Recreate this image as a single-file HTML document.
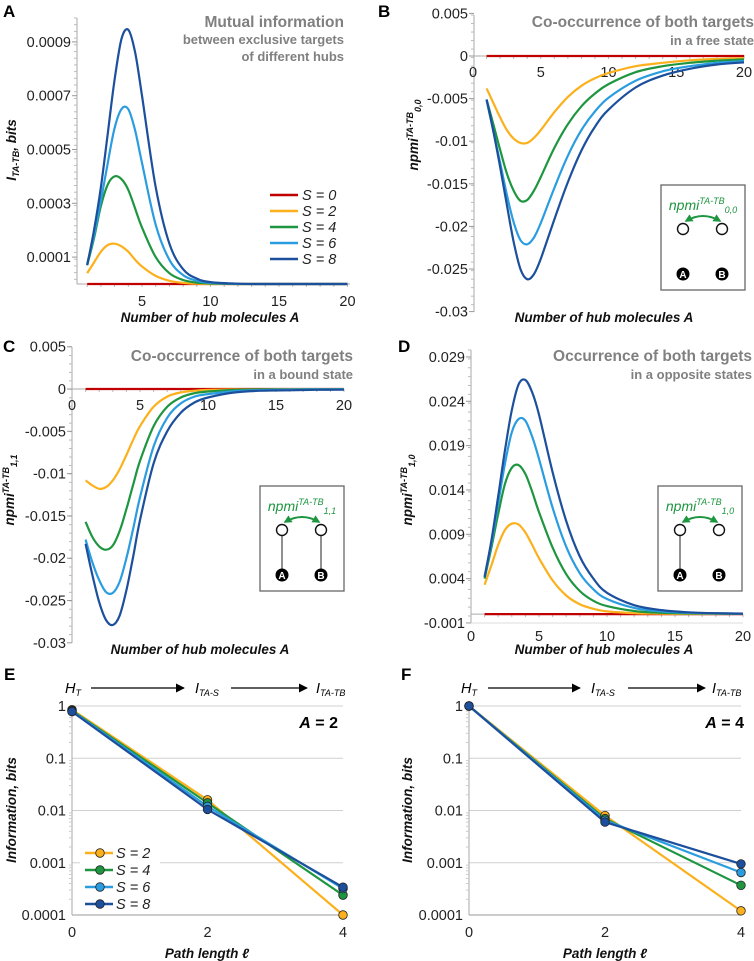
<!DOCTYPE html>
<html><head><meta charset="utf-8"><style>
body{margin:0;background:#fff;}
svg{display:block;font-family:"Liberation Sans",Arial,sans-serif;}
.tk{font-size:14.5px;fill:#222;}
.ttl{font-weight:bold;fill:#808080;}
.lab{font-weight:bold;font-style:italic;font-size:13.5px;fill:#111;}
.pl{font-weight:bold;font-size:17px;fill:#000;}
</style></head><body>
<svg id="fig" width="754" height="961" viewBox="0 0 754 961" xmlns="http://www.w3.org/2000/svg">
<g id="static">
<text class="pl" x="3" y="17">A</text>
<text class="pl" x="378" y="17">B</text>
<text class="pl" x="3" y="352">C</text>
<text class="pl" x="398" y="352">D</text>
<text class="pl" x="4" y="680">E</text>
<text class="pl" x="401" y="680">F</text>

<g text-anchor="end">
<text class="ttl" x="344" y="27" font-size="15.5">Mutual information</text>
<text class="ttl" x="344" y="44" font-size="13">between exclusive targets</text>
<text class="ttl" x="344" y="61" font-size="13">of different hubs</text></g>
<g text-anchor="end">
<text class="ttl" x="754" y="27" font-size="15.5">Co-occurrence of both targets</text>
<text class="ttl" x="754" y="45" font-size="13">in a free state</text></g>
<g text-anchor="end">
<text class="ttl" x="353" y="361" font-size="15.5">Co-occurrence of both targets</text>
<text class="ttl" x="353" y="379" font-size="13">in a bound state</text></g>
<g text-anchor="end">
<text class="ttl" x="752" y="361" font-size="15.5">Occurrence of both targets</text>
<text class="ttl" x="752" y="379" font-size="13">in a opposite states</text></g>

<text class="lab" x="210" y="322" text-anchor="middle">Number of hub molecules A</text>
<text class="lab" x="604" y="322" text-anchor="middle">Number of hub molecules A</text>
<text class="lab" x="200" y="654" text-anchor="middle">Number of hub molecules A</text>
<text class="lab" x="604" y="654" text-anchor="middle">Number of hub molecules A</text>
<text class="lab" x="207" y="958" text-anchor="middle">Path length ℓ</text>
<text class="lab" x="605" y="958" text-anchor="middle">Path length ℓ</text>

<text class="lab" transform="translate(16,150) rotate(-90)" text-anchor="middle">I<tspan font-size="9" dy="3">TA-TB</tspan><tspan dy="-3">, bits</tspan></text>
<text class="lab" transform="translate(418,135) rotate(-90)" text-anchor="middle">npmi<tspan font-size="9" dy="-5">TA-TB</tspan><tspan font-size="9" dy="8">0,0</tspan></text>
<text class="lab" transform="translate(14,490) rotate(-90)" text-anchor="middle">npmi<tspan font-size="9" dy="-5">TA-TB</tspan><tspan font-size="9" dy="8">1,1</tspan></text>
<text class="lab" transform="translate(412,490) rotate(-90)" text-anchor="middle">npmi<tspan font-size="9" dy="-5">TA-TB</tspan><tspan font-size="9" dy="8">1,0</tspan></text>
<text class="lab" transform="translate(16,810) rotate(-90)" text-anchor="middle">Information, bits</text>
<text class="lab" transform="translate(412,810) rotate(-90)" text-anchor="middle">Information, bits</text>

<defs><marker id="ah" viewBox="0 0 10 10" refX="9" refY="5" markerWidth="7" markerHeight="7" orient="auto"><path d="M0,0 L10,5 L0,10 z" fill="#000"/></marker>
<marker id="gh" viewBox="0 0 10 10" refX="8" refY="5" markerWidth="4" markerHeight="4" orient="auto-start-reverse"><path d="M0,0 L10,5 L0,10 z" fill="#1e9640"/></marker></defs>

<g font-size="14.5" font-style="italic">
<text x="65" y="693">H<tspan font-size="9" dy="3">T</tspan></text>
<line x1="91" y1="688" x2="184" y2="688" stroke="#000" stroke-width="1.3" marker-end="url(#ah)"/>
<text x="195" y="693">I<tspan font-size="9" dy="3">TA-S</tspan></text>
<line x1="231" y1="688" x2="307" y2="688" stroke="#000" stroke-width="1.3" marker-end="url(#ah)"/>
<text x="316" y="693">I<tspan font-size="9" dy="3">TA-TB</tspan></text></g>
<g font-size="14.5" font-style="italic">
<text x="461" y="693">H<tspan font-size="9" dy="3">T</tspan></text>
<line x1="488" y1="688" x2="580" y2="688" stroke="#000" stroke-width="1.3" marker-end="url(#ah)"/>
<text x="591" y="693">I<tspan font-size="9" dy="3">TA-S</tspan></text>
<line x1="628" y1="688" x2="705" y2="688" stroke="#000" stroke-width="1.3" marker-end="url(#ah)"/>
<text x="712" y="693">I<tspan font-size="9" dy="3">TA-TB</tspan></text></g>
<text x="338" y="728" font-size="16" font-weight="bold" text-anchor="end"><tspan font-style="italic">A</tspan> = 2</text>
<text x="744" y="728" font-size="16" font-weight="bold" text-anchor="end"><tspan font-style="italic">A</tspan> = 4</text>
</g>
<g id="plots"></g>
<g id="insets"></g>
</svg>
<script>
// ---- data ----
const xA = [1,1.5,2,2.5,3,3.5,4,4.5,5,6,7,8,9,10,12,14,16,18,20];
const sLabels = ["S = 0","S = 2","S = 4","S = 6","S = 8"];
const colors = ["#c00000","#fbb01c","#1e9640","#2a9de0","#1c4f9c"];
// Panel A, units of 1e-4 bits
const a_S0 = [0,0,0,0,0,0,0,0,0,0,0,0,0,0,0,0,0,0,0];
const a_S2 = [0.4,0.8,1.2,1.45,1.5,1.4,1.2,0.9,0.65,0.3,0.12,0.04,0.01,0,0,0,0,0,0];
const a_S4 = [0.7,1.7,2.9,3.7,4.0,3.9,3.5,2.8,2.1,1.0,0.4,0.15,0.05,0.02,0,0,0,0,0];
const a_S6 = [0.75,1.8,3.1,4.5,5.8,6.5,6.5,5.7,4.5,2.2,0.9,0.33,0.12,0.04,0.005,0,0,0,0];
const a_S8 = [0.7,2.0,3.6,5.6,7.6,9.1,9.45,8.6,7.0,3.6,1.5,0.55,0.2,0.07,0.01,0,0,0,0];
// Panel B, units of 1e-3
const b_S0 = [0,0,0,0,0,0,0,0,0,0,0,0,0,0,0,0,0,0,0];
const b_S2 = [-3.8,-5.5,-7.2,-8.7,-9.7,-10.2,-10.2,-9.6,-8.7,-6.6,-4.8,-3.5,-2.6,-2.0,-1.2,-0.8,-0.5,-0.35,-0.25];
const b_S4 = [-5.1,-8,-11,-13.8,-15.8,-17,-16.9,-15.8,-14.2,-10.8,-8,-5.9,-4.4,-3.3,-1.9,-1.2,-0.8,-0.55,-0.4];
const b_S6 = [-5.2,-8.8,-12.5,-16.3,-19.5,-21.6,-22.1,-21.3,-19.6,-15.5,-11.7,-8.7,-6.5,-4.9,-2.9,-1.8,-1.2,-0.8,-0.6];
const b_S8 = [-5.1,-8.8,-13,-17.5,-21.8,-25,-26.2,-25.6,-23.8,-19.2,-14.8,-11.1,-8.3,-6.3,-3.7,-2.3,-1.5,-1.0,-0.75];
// Panel C, units of 1e-3
const c_S0 = [0,0,0,0,0,0,0,0,0,0,0,0,0,0,0,0,0,0,0];
const c_S2 = [-10.8,-11.4,-11.8,-11.6,-10.8,-9.5,-7.8,-6.0,-4.4,-2.1,-0.9,-0.4,-0.2,-0.1,-0.05,-0.03,-0.02,-0.01,-0.01];
const c_S4 = [-15.7,-17.5,-18.6,-19,-18.5,-16.8,-14.2,-11.3,-8.5,-4.4,-2.1,-1.0,-0.5,-0.3,-0.1,-0.05,-0.03,-0.02,-0.02];
const c_S6 = [-17.8,-20.5,-22.6,-24,-24.1,-22.8,-20,-16.5,-12.8,-6.8,-3.4,-1.7,-0.9,-0.6,-0.25,-0.12,-0.07,-0.05,-0.04];
const c_S8 = [-18.3,-22,-25.2,-27.3,-27.9,-26.8,-23.8,-19.8,-15.5,-8.8,-5.0,-2.8,-1.6,-1.0,-0.4,-0.2,-0.15,-0.1,-0.08];
// Panel D, units of 1e-3
const d_S0 = [0,0,0,0,0,0,0,0,0,0,0,0,0,0,0,0,0,0,0];
const d_S2 = [3.3,5.5,7.8,9.5,10.2,10.1,9.2,7.8,6.3,3.8,2.1,1.1,0.6,0.3,0.1,0.05,0.02,0.02,0.02];
const d_S4 = [4,7.5,11.3,14.7,16.5,16.8,15.8,13.8,11.5,7.5,4.5,2.6,1.5,0.9,0.35,0.15,0.08,0.05,0.03];
const d_S6 = [4.2,8,12.5,17,20.5,22,21.8,20,17.5,12,7.6,4.6,2.8,1.7,0.7,0.3,0.15,0.08,0.05];
const d_S8 = [4.2,8.3,13.3,18.5,23,25.9,26.4,25,22.5,16,10.5,6.5,4,2.4,1,0.45,0.2,0.1,0.06];
// Panels E/F
const pathLen = [0,2,4];
const e_S2 = [0.85,0.016,0.0001];
const e_S4 = [0.82,0.014,0.00024];
const e_S6 = [0.80,0.012,0.00032];
const e_S8 = [0.78,0.0105,0.00034];
const f_S2 = [1.0,0.008,0.00012];
const f_S4 = [1.0,0.007,0.00037];
const f_S6 = [1.0,0.0065,0.00065];
const f_S8 = [1.0,0.006,0.00095];
const tickA = ["0.0001","0.0003","0.0005","0.0007","0.0009"];
const tickB = ["0.005","0","-0.005","-0.01","-0.015","-0.02","-0.025","-0.03"];
const tickD = ["0.029","0.024","0.019","0.014","0.009","0.004","-0.001"];
const tickE = ["1","0.1","0.01","0.001","0.0001"];
const tickX = ["0","5","10","15","20"];

const NS="http://www.w3.org/2000/svg";
const plots=document.getElementById('plots');
function el(tag,attrs,parent){const e=document.createElementNS(NS,tag);for(const k in attrs)e.setAttribute(k,attrs[k]);(parent||plots).appendChild(e);return e;}
function txt(s,x,y,anchor,cls,parent){const t=el('text',{x:x,y:y,'text-anchor':anchor,'class':cls},parent);t.textContent=s;return t;}
function smooth(pts){let d='M'+pts[0][0].toFixed(1)+','+pts[0][1].toFixed(1);
 for(let i=0;i<pts.length-1;i++){const p0=pts[i-1]||pts[i],p1=pts[i],p2=pts[i+1],p3=pts[i+2]||p2;
  const c1=[p1[0]+(p2[0]-p0[0])/6,p1[1]+(p2[1]-p0[1])/6],c2=[p2[0]-(p3[0]-p1[0])/6,p2[1]-(p3[1]-p1[1])/6];
  d+=' C'+c1[0].toFixed(1)+','+c1[1].toFixed(1)+' '+c2[0].toFixed(1)+','+c2[1].toFixed(1)+' '+p2[0].toFixed(1)+','+p2[1].toFixed(1);}
 return d;}
function curve(xs,ys,fx,fy,color,name){const p=el('path',{d:smooth(xs.map((x,i)=>[fx(x),fy(ys[i])])),fill:'none',stroke:color,'stroke-width':2.2});
 
 }
function yAxis(x,y1,y2,ticks,fyv,vals,minorStep,name){const g=el('g',{});
 
 
 el('line',{x1:x,y1:y1,x2:x,y2:y2,stroke:'#aaa'},g);
 for(let yy=y1;yy<=y2+0.1;yy+=minorStep)el('line',{x1:x-3,y1:yy,x2:x,y2:yy,stroke:'#bbb'},g);
 ticks.forEach((t,i)=>{const yy=fyv(vals[i]);el('line',{x1:x-5,y1:yy,x2:x,y2:yy,stroke:'#999'},g);txt(t,x-6,yy+5,'end','tk',g);});}
function xAxis(fx,y,x1,x2,labY,labels,showZero,name){const g=el('g',{});
 
 
 el('line',{x1:x1,y1:y,x2:x2,y2:y,stroke:'#aaa'},g);
 for(let v=1;v<=20;v++)el('line',{x1:fx(v),y1:y,x2:fx(v),y2:y+3,stroke:'#bbb'},g);
 labels.forEach((t,i)=>{if(i===0&&!showZero)return;txt(t,fx(i*5),labY,'middle','tk',g);});}
const A=[a_S0,a_S2,a_S4,a_S6,a_S8],B=[b_S0,b_S2,b_S4,b_S6,b_S8],C=[c_S0,c_S2,c_S4,c_S6,c_S8],D=[d_S0,d_S2,d_S4,d_S6,d_S8];
// Panel A
{const fx=v=>73.5+v*13.7, fy=v=>284-v*26.9;
 yAxis(77,18,284,tickA,fy,[1,3,5,7,9],6.7,'y-axis-a');
 xAxis(fx,284,77,350,306,tickX,false,'x-axis-a');
 A.forEach((s,i)=>curve(xA,s,fx,fy,colors[i],'line-a-s'+(i*2)));
 sLabels.forEach((l,i)=>{const yy=195+i*16;const g=el('g',{});
  
  
  el('line',{x1:270,y1:yy,x2:298,y2:yy,stroke:colors[i],'stroke-width':2.5},g);
  const t=txt(l,302,yy+5,'start','tk',g);t.setAttribute('font-style','italic');});}
// Panel B
{const fx=v=>473+v*13.55, fy=v=>56-v*8.52;
 yAxis(474,15,312,tickB,fy,[5,0,-5,-10,-15,-20,-25,-30],8.52,'y-axis-b');
 xAxis(fx,56,474,745,77,tickX,true,'x-axis-b');
 B.forEach((s,i)=>curve(xA,s,fx,fy,colors[i],'line-b-s'+(i*2)));}
// Panel C
{const fx=v=>72+v*13.6, fy=v=>389-v*8.46;
 yAxis(72,347,643,tickB,fy,[5,0,-5,-10,-15,-20,-25,-30],8.46,'y-axis-c');
 xAxis(fx,389,72,344,410,tickX,true,'x-axis-c');
 C.forEach((s,i)=>curve(xA,s,fx,fy,colors[i],'line-c-s'+(i*2)));}
// Panel D
{const fx=v=>471+v*13.6, fy=v=>614.1-v*8.867;
 yAxis(471,350,623,tickD,fy,[29,24,19,14,9,4,-1],8.867,'y-axis-d');
 el('line',{x1:471,y1:623,x2:743,y2:623,stroke:'#ddd'});
 xAxis(fx,614.1,471,743,641,tickX,true,'x-axis-d');
 D.forEach((s,i)=>curve(xA,s,fx,fy,colors[i],'line-d-s'+(i*2)));}
// Panels E, F
function logPanel(x0,xs,series,name,legend){const fx=v=>x0+v*(x0===72?67.75:68), fy=v=>706-Math.log10(v)*52.25;
 const xr=fx(4);
 const g=el('g',{});
 
 
 [1,0.1,0.01,0.001].forEach(v=>el('line',{x1:x0,y1:fy(v),x2:xr,y2:fy(v),stroke:'#d0d0d0'},g));
 el('line',{x1:x0,y1:fy(0.0001),x2:xr,y2:fy(0.0001),stroke:'#999'},g);
 el('line',{x1:x0,y1:fy(1),x2:x0,y2:fy(0.0001),stroke:'#aaa'},g);
 for(let d=0;d<4;d++)for(let k=2;k<10;k++){const yy=fy(Math.pow(10,-d-1)*k);el('line',{x1:x0-3,y1:yy,x2:x0,y2:yy,stroke:'#ccc'},g);}
 tickE.forEach((t,i)=>txt(t,x0-6,fy(Math.pow(10,-i))+5,'end','tk',g));
 xs.forEach(v=>txt(String(v),fx(v),937,'middle','tk',g));
 series.forEach((s,i)=>{const c=colors[i+1];
  const pl=el('polyline',{points:xs.map((x,j)=>fx(x)+','+fy(s[j])).join(' '),fill:'none',stroke:c,'stroke-width':2.2});
  
  });
 series.forEach((s,i)=>{const c=colors[i+1];xs.forEach((x,j)=>{
  const m=el('circle',{cx:fx(x),cy:fy(s[j]),r:4.3,fill:c,stroke:'#222','stroke-width':0.8});
  
  });});
 if(legend){el('rect',{x:80,y:843,width:80,height:70,fill:'#fff'});
  series.forEach((s,i)=>{const yy=853+i*17;const lg=el('g',{});
   
   
   el('line',{x1:85,y1:yy,x2:113,y2:yy,stroke:colors[i+1],'stroke-width':2.5},lg);
   el('circle',{cx:100,cy:yy,r:4.3,fill:colors[i+1],stroke:'#222','stroke-width':0.8},lg);
   const t=txt(sLabels[i+1],116,yy+5,'start','tk',lg);t.setAttribute('font-style','italic');});}}
logPanel(72,pathLen,[e_S2,e_S4,e_S6,e_S8],'e',true);
logPanel(469,pathLen,[f_S2,f_S4,f_S6,f_S8],'f',false);
// insets
const ins=document.getElementById('insets');
function inset(bx,by,sub,lineA,lineB,name){const g=el('g',{},ins);
 
 
 el('rect',{x:bx,y:by,width:84,height:105,fill:'#fff',stroke:'#666','stroke-width':1.3},g);
 const l=el('text',{x:bx+42,y:by+25,'text-anchor':'middle','font-size':'14','font-style':'italic',fill:'#1e9640'},g);
 l.innerHTML='npmi<tspan font-size="9" dy="-6">TA-TB</tspan><tspan font-size="9" dy="9">'+sub+'</tspan>';
 el('path',{d:'M'+(bx+25)+','+(by+36)+' Q'+(bx+42)+','+(by+26)+' '+(bx+59)+','+(by+36),fill:'none',stroke:'#1e9640','stroke-width':2,'marker-start':'url(#gh)','marker-end':'url(#gh)'},g);
 const x1=bx+22,x2=bx+61,yc=by+44,yb=by+89;
 if(lineA)el('line',{x1:x1,y1:yc,x2:x1,y2:yb,stroke:'#222'},g);
 if(lineB)el('line',{x1:x2,y1:yc,x2:x2,y2:yb,stroke:'#222'},g);
 [x1,x2].forEach(x=>el('circle',{cx:x,cy:yc,r:5.5,fill:'#fff',stroke:'#111','stroke-width':1.4},g));
 [[x1,'A'],[x2,'B']].forEach(([x,t])=>{el('circle',{cx:x,cy:yb,r:6.5,fill:'#000'},g);
  const tt=el('text',{x:x,y:yb+4,'text-anchor':'middle','font-size':'10','font-weight':'bold',fill:'#fff'},g);tt.textContent=t;});}
inset(661,185,'0,0',false,false,'inset-diagram-b');
inset(260,486,'1,1',true,true,'inset-diagram-c');
inset(658,486,'1,0',true,false,'inset-diagram-d');
</script>
</body></html>
